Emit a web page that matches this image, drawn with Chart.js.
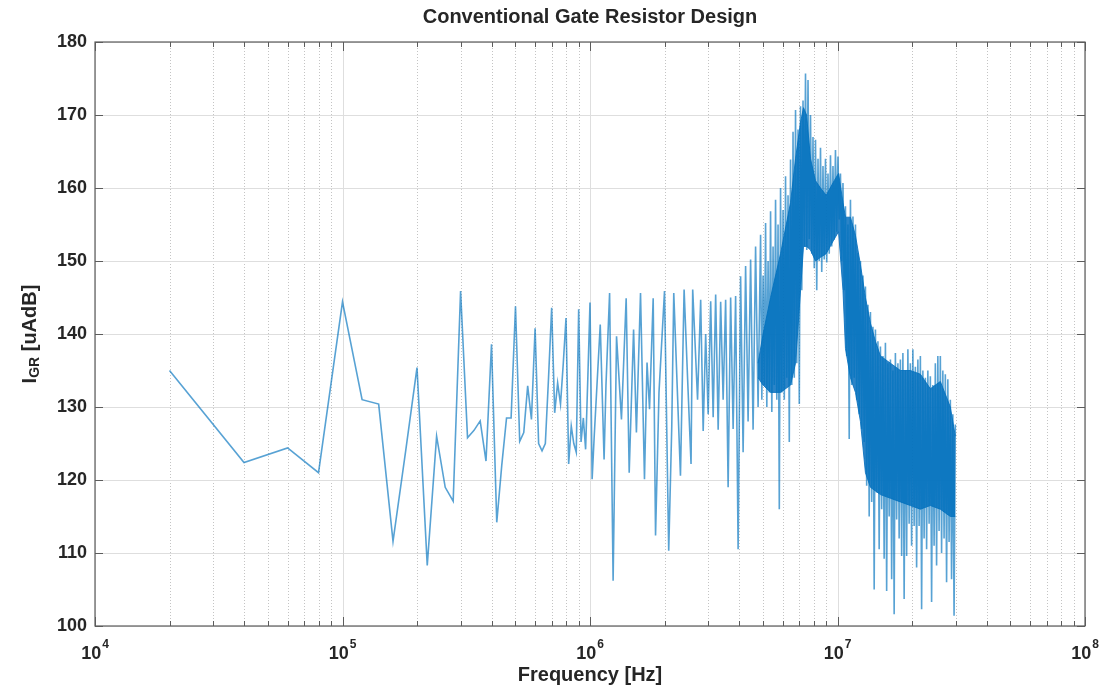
<!DOCTYPE html>
<html>
<head>
<meta charset="utf-8">
<title>Conventional Gate Resistor Design</title>
<script src="https://cdn.jsdelivr.net/npm/chart.js@4.4.1/dist/chart.umd.min.js"></script>
<style>
  html, body { margin: 0; padding: 0; background: #fff; }
  #wrap { width: 1104px; height: 691px; }
</style>
</head>
<body>
<div id="wrap"><canvas id="chart" width="1104" height="691"></canvas></div>
<script>
// spectrum: frequency [kHz] and level [uAdB]
const freqKHz = [
  20, 40, 60, 80, 100, 120, 140, 160, 180, 200, 220, 240, 260, 280, 300, 320, 340, 360, 380, 400,
  420, 440, 460, 480, 500, 520, 540, 560, 580, 600, 620, 640, 660, 680, 700, 720, 740, 760, 780, 800,
  820, 840, 860, 880, 900, 920, 940, 960, 980, 1000, 1020, 1040, 1100, 1140, 1160, 1200, 1240, 1280, 1340, 1400,
  1440, 1500, 1540, 1600, 1660, 1700, 1740, 1800, 1840, 1900, 2000, 2080, 2140, 2180, 2320, 2400, 2480, 2560, 2600, 2720,
  2800, 2866, 2933, 3002, 3073, 3145, 3219, 3295, 3372, 3451, 3532, 3615, 3700, 3787, 3876, 3967, 4060, 4156, 4253, 4353,
  4456, 4560, 4667, 4777,
  4889, 4946, 5004, 5062, 5122, 5181, 5242, 5303, 5365, 5428, 5491, 5555, 5620, 5685, 5752, 5819, 5887, 5956, 6026, 6096,
  6167, 6239, 6312, 6386, 6460, 6536, 6612, 6689, 6768, 6847, 6927, 7008, 7089, 7172, 7256, 7341, 7426, 7513, 7601, 7690,
  7779, 7870, 7962, 8055, 8149, 8244, 8341, 8438, 8537, 8637, 8737, 8839, 8943, 9047, 9153, 9260, 9368, 9477, 9588, 9700,
  9813, 9928, 10044, 10161, 10280, 10400, 10522, 10645, 10769, 10895, 11022, 11151, 11281, 11413, 11546, 11681, 11818, 11956, 12095, 12237,
  12380, 12524, 12671, 12819, 12968, 13120, 13273, 13428, 13585, 13744, 13904, 14067, 14231, 14397, 14566, 14736, 14908, 15082, 15258, 15436,
  15617, 15799, 15984, 16171, 16360, 16551, 16744, 16940, 17137, 17338, 17540, 17745, 17952, 18162, 18374, 18589, 18806, 19026, 19248, 19473,
  19700, 19930, 20163, 20399, 20637, 20878, 21122, 21369, 21618, 21871, 22126, 22385, 22646, 22911, 23178, 23449, 23723, 24000, 24280, 24564,
  24851, 25141, 25435, 25732, 26033, 26337, 26644, 26955, 27270, 27589, 27911, 28237, 28567, 28900, 29238, 29579, 29925
];
const levelDb = [
  135.0, 122.4, 124.4, 121.0, 144.4, 131.0, 130.4, 111.6, 124.0, 135.4, 108.3, 126.0, 119.0, 117.1, 145.9, 125.8, 126.8, 128.1, 122.6, 138.6,
  114.2, 122.0, 128.5, 128.5, 143.8, 125.3, 126.5, 132.9, 128.3, 140.8, 125.0, 124.0, 125.0, 134.0, 143.6, 129.2, 133.3, 130.4, 136.0, 142.2,
  122.2, 127.4, 125.0, 123.8, 143.4, 125.2, 128.5, 124.2, 134.0, 144.3, 120.1, 126.0, 141.3, 122.8, 132.9, 145.6, 106.2, 139.7, 128.3, 144.9,
  121.0, 140.6, 126.5, 145.6, 120.1, 136.1, 129.7, 144.9, 112.4, 132.0, 145.9, 110.3, 127.4, 145.6, 120.6, 146.1, 133.8, 122.2, 146.1, 131.0,
  144.7, 126.7, 140.0, 129.0, 144.5, 128.6, 145.4, 126.9, 144.4, 131.0, 144.7, 119.0, 145.0, 127.0, 145.2, 110.5, 147.9, 123.8, 149.3, 128.0,
  150.2, 126.9, 152.0, 130.0,
  153.6, 131.0, 148.0, 133.0, 155.2, 130.0, 150.0, 132.0, 156.8, 129.3, 152.0, 133.0, 158.4, 131.0, 155.0, 116.0, 160.0, 132.0, 157.0, 131.0,
  161.6, 134.0, 159.0, 125.2, 163.9, 133.0, 167.7, 134.0, 170.7, 136.0, 168.0, 130.4, 171.2, 146.0, 172.0, 152.0, 175.7, 151.5, 174.8, 153.0,
  170.0, 151.0, 167.0, 149.0, 166.6, 146.0, 164.0, 150.0, 165.5, 148.5, 163.0, 150.2, 164.0, 149.8, 162.0, 151.0, 164.5, 152.0, 163.0, 152.9,
  165.2, 154.0, 164.3, 155.7, 162.0, 150.0, 160.7, 146.0, 157.5, 137.0, 155.0, 125.6, 158.4, 133.0, 156.1, 134.0, 155.0, 131.0, 151.1, 129.0,
  150.0, 127.0, 148.0, 125.2, 146.5, 119.2, 144.0, 115.0, 143.0, 117.0, 141.0, 105.0, 140.6, 118.3, 139.0, 110.5, 138.3, 116.0, 137.0, 109.2,
  138.8, 104.8, 136.0, 115.0, 136.5, 106.4, 135.0, 101.6, 137.4, 114.6, 136.0, 112.0, 136.5, 109.6, 137.4, 103.7, 135.0, 109.6, 137.9, 114.0,
  136.0, 111.0, 137.9, 113.7, 135.5, 108.0, 136.5, 113.7, 137.0, 102.3, 135.0, 112.0, 134.0, 110.5, 135.0, 114.0, 134.2, 103.3, 133.0, 111.0,
  136.0, 108.3, 137.0, 113.0, 137.0, 110.0, 135.0, 112.0, 134.5, 106.0, 133.8, 111.5, 131.0, 106.4, 129.0, 101.4, 127.6
];

// solid core of the dense part above ~5 MHz
const bandFreqKHz = [4777, 5004, 5365, 5887, 6460, 6768, 7089, 7290, 7500, 7779, 8149, 8537, 9000, 9700, 10100, 10522, 10769, 11281, 11818, 12380, 12968, 13585, 14231, 14908, 16360, 17952, 19700, 21618, 23723, 26033, 28567, 29925];
const bandUpper = [136, 140, 145, 151, 158, 164, 169, 171, 170, 164, 161, 160, 159, 161, 162, 158, 156, 156, 153.5, 149.5, 145, 141.5, 139, 137, 136, 135, 135, 134.5, 132.5, 133.5, 130, 126];
const bandLower = [134, 133, 132, 132, 133, 136, 146, 152, 152, 151.5, 150, 150.5, 151, 153, 154, 146, 138, 134, 132, 128, 121, 119, 118.5, 118, 117.5, 117, 116.5, 116, 116.5, 116, 115, 115];

const yTicks = [100, 110, 120, 130, 140, 150, 160, 170, 180];
const xDecades = [1e4, 1e5, 1e6, 1e7, 1e8];
const xExponents = ['4', '5', '6', '7', '8'];

const xMinor = [];
xDecades.slice(0, -1).forEach((d) => {
  for (let m = 2; m <= 9; m++) xMinor.push(d * m);
});
const xTickValues = xDecades.concat(xMinor).sort((a, b) => a - b);

const lineBlue = 'rgba(0, 114, 189, 0.66)';
const coreBlue = 'rgba(8, 112, 190, 0.86)';
const axisColor = '#262626';
const FONT = '"Liberation Sans", Arial, Helvetica, sans-serif';

Chart.defaults.font.family = FONT;

// MATLAB-like grid, box and inward ticks
const matlabAxes = {
  id: 'matlabAxes',
  beforeDatasetsDraw(chart) {
    const { ctx, chartArea: a, scales: { x, y } } = chart;
    ctx.save();
    ctx.lineWidth = 1;

    ctx.strokeStyle = '#c4c4c4';
    ctx.setLineDash([1, 2]);
    xMinor.forEach((v) => {
      const px = Math.round(x.getPixelForValue(v)) + 0.5;
      ctx.beginPath(); ctx.moveTo(px, a.top); ctx.lineTo(px, a.bottom); ctx.stroke();
    });
    ctx.setLineDash([]);

    ctx.strokeStyle = '#dedede';
    xDecades.forEach((v) => {
      const px = Math.round(x.getPixelForValue(v)) + 0.5;
      ctx.beginPath(); ctx.moveTo(px, a.top); ctx.lineTo(px, a.bottom); ctx.stroke();
    });
    yTicks.forEach((v) => {
      const py = Math.round(y.getPixelForValue(v)) + 0.5;
      ctx.beginPath(); ctx.moveTo(a.left, py); ctx.lineTo(a.right, py); ctx.stroke();
    });
    ctx.restore();
  },
  afterDatasetsDraw(chart) {
    const { ctx, chartArea: a, scales: { x, y } } = chart;
    ctx.save();
    ctx.strokeStyle = '#5c5c5c';
    ctx.lineWidth = 1.2;
    ctx.strokeRect(a.left, a.top, a.right - a.left, a.bottom - a.top);

    ctx.lineWidth = 1;
    const tick = (x1, y1, x2, y2) => {
      ctx.beginPath(); ctx.moveTo(x1, y1); ctx.lineTo(x2, y2); ctx.stroke();
    };
    xTickValues.forEach((v) => {
      const px = Math.round(x.getPixelForValue(v)) + 0.5;
      const len = xDecades.includes(v) ? 9 : 5;
      tick(px, a.bottom, px, a.bottom - len);
      tick(px, a.top, px, a.top + len);
    });
    yTicks.forEach((v) => {
      const py = Math.round(y.getPixelForValue(v)) + 0.5;
      tick(a.left, py, a.left + 8, py);
      tick(a.right, py, a.right - 8, py);
    });

    // decade labels 10^n with a raised exponent
    const base = 'bold 18px ' + FONT;
    const sup = 'bold 12px ' + FONT;
    ctx.fillStyle = axisColor;
    ctx.textAlign = 'left';
    ctx.textBaseline = 'alphabetic';
    xDecades.forEach((v, i) => {
      const px = x.getPixelForValue(v);
      ctx.font = base;
      const w1 = ctx.measureText('10').width;
      ctx.font = sup;
      const w2 = ctx.measureText(xExponents[i]).width;
      const left = px - (w1 + w2 + 1) / 2;
      ctx.font = base;
      ctx.fillText('10', left, 659);
      ctx.font = sup;
      ctx.fillText(xExponents[i], left + w1 + 1, 648);
    });
    ctx.restore();
  },
};

// y label with subscript: I_GR [uAdB]
const yLabel = {
  id: 'yLabel',
  afterDraw(chart) {
    const { ctx, chartArea: a } = chart;
    const parts = [
      ['I', 'bold 20px ' + FONT, 0],
      ['GR', 'bold 14px ' + FONT, 5],
      [' [uAdB]', 'bold 20px ' + FONT, 0],
    ];
    ctx.save();
    ctx.translate(30, (a.top + a.bottom) / 2);
    ctx.rotate(-Math.PI / 2);
    ctx.fillStyle = axisColor;
    ctx.textAlign = 'left';
    ctx.textBaseline = 'middle';
    let w = 0;
    parts.forEach(([t, f]) => { ctx.font = f; w += ctx.measureText(t).width; });
    let pos = -w / 2;
    parts.forEach(([t, f, dy]) => {
      ctx.font = f;
      ctx.fillText(t, pos, dy);
      pos += ctx.measureText(t).width;
    });
    ctx.restore();
  },
};

const toPoints = (xs, ys) => xs.map((f, i) => ({ x: f * 1000, y: ys[i] }));

new Chart(document.getElementById('chart'), {
  type: 'line',
  data: {
    datasets: [
      {
        label: 'I_GR',
        data: toPoints(freqKHz, levelDb),
        borderColor: lineBlue,
        borderWidth: 1.6,
        pointRadius: 0,
        tension: 0,
        fill: false,
      },
      {
        label: 'core upper',
        data: toPoints(bandFreqKHz, bandUpper),
        borderColor: coreBlue,
        backgroundColor: coreBlue,
        borderWidth: 1,
        pointRadius: 0,
        tension: 0,
        fill: '+1',
      },
      {
        label: 'core lower',
        data: toPoints(bandFreqKHz, bandLower),
        borderColor: coreBlue,
        borderWidth: 1,
        pointRadius: 0,
        tension: 0,
        fill: false,
      },
    ],
  },
  options: {
    responsive: false,
    animation: false,
    layout: { padding: { left: 0, right: 19, top: 0, bottom: 0 } },
    plugins: {
      legend: { display: false },
      tooltip: { enabled: false },
      title: {
        display: true,
        fullSize: false,
        text: 'Conventional Gate Resistor Design',
        color: axisColor,
        font: { size: 20, weight: 'bold', lineHeight: 1 },
        padding: { top: 7, bottom: 15 },
      },
    },
    scales: {
      x: {
        type: 'logarithmic',
        min: 1e4,
        max: 1e8,
        afterBuildTicks: (scale) => { scale.ticks = xTickValues.map((v) => ({ value: v })); },
        afterFit: (scale) => { scale.height = 65; },
        grid: { display: false, drawTicks: false },
        border: { display: false },
        ticks: { display: false },
        title: {
          display: true,
          text: 'Frequency [Hz]',
          color: axisColor,
          font: { size: 20, weight: 'bold' },
          padding: { top: 0, bottom: 4 },
        },
      },
      y: {
        min: 100,
        max: 180,
        afterBuildTicks: (scale) => { scale.ticks = yTicks.map((v) => ({ value: v })); },
        afterFit: (scale) => { scale.width = 95; },
        grid: { display: false, drawTicks: false },
        border: { display: false },
        ticks: {
          padding: 8,
          color: axisColor,
          font: { size: 18, weight: 'bold' },
        },
      },
    },
  },
  plugins: [matlabAxes, yLabel],
});
</script>
</body>
</html>
